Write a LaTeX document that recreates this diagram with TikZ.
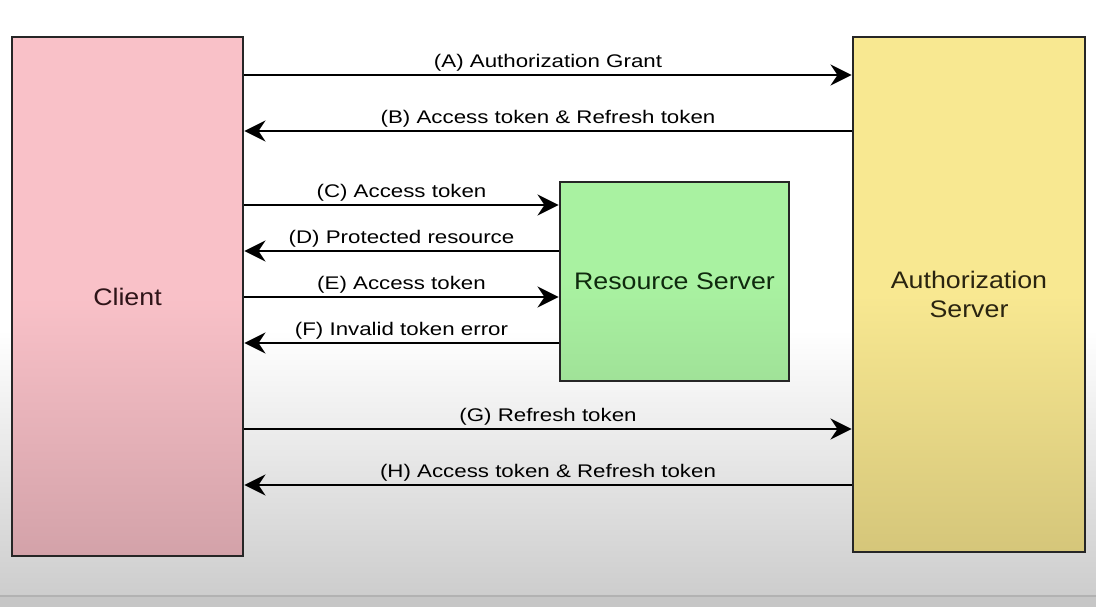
\documentclass[tikz,border=0pt]{standalone}
\usepackage{fontspec}
\setmainfont{Liberation Sans}
\usepackage{graphicx}
\usetikzlibrary{arrows.meta}

\definecolor{clientfill}{HTML}{F9C1C8}
\definecolor{clientdark}{HTML}{D3A2A9}
\definecolor{clienttext}{HTML}{2E1418}
\definecolor{resfill}{HTML}{A9F2A1}
\definecolor{resdark}{HTML}{A0E298}
\definecolor{restext}{HTML}{0F2A0E}
\definecolor{authfill}{HTML}{F8E891}
\definecolor{authdark}{HTML}{D5C67A}
\definecolor{authtext}{HTML}{2A2410}
\definecolor{bgbottom}{HTML}{CDCDCD}
\definecolor{bgband}{HTML}{C6C6C6}

\newcommand{\wide}[1]{\scalebox{1.12}[1]{#1}}

\tikzset{
    box/.style={draw=black!85, line width=2pt, inner sep=0pt,
        font=\fontsize{17}{22}\selectfont, align=center},
    flow/.style={line width=1.6pt, -{Stealth[length=15pt, width=15pt, inset=5pt]}},
    lbl/.style={above, inner sep=1.5pt, font=\fontsize{13}{15}\selectfont, xscale=1.22}
}

\begin{document}
\begin{tikzpicture}[x=0.025cm, y=-0.025cm]
    \useasboundingbox (0,0) rectangle (1096,607);
    % Background
    \fill[white] (0,0) rectangle (1096,330);
    \shade[top color=white, bottom color=bgbottom] (0,330) rectangle (1096,596);
    \fill[bgband] (0,596) rectangle (1096,607);
    \draw[black!30, line width=1pt] (0,596) -- (1096,596);

    % Define boxes
    \node[box, minimum width=5.775cm, minimum height=12.975cm,
        top color=clientfill, bottom color=clientdark, middle color=clientfill,
        text=clienttext] (client) at (127.5,296.5) {\wide{Client}};
    \node[box, minimum width=5.725cm, minimum height=4.975cm,
        top color=resfill, bottom color=resdark, middle color=resfill,
        text=restext] (res) at (674.5,281.5) {\wide{Resource Server}};
    \node[box, minimum width=5.8cm, minimum height=12.875cm,
        top color=authfill, bottom color=authdark, middle color=authfill,
        text=authtext] (auth) at (969,294.5) {\wide{Authorization}\\[-1pt]\wide{Server}};

    % Draw arrows
    \draw[flow] (client.east |- 0,75) -- (auth.west |- 0,75) node[lbl, midway] {(A) Authorization Grant};
    \draw[flow] (auth.west |- 0,131) -- (client.east |- 0,131) node[lbl, midway] {(B) Access token \& Refresh token};
    \draw[flow] (client.east |- 0,205) -- (res.west |- 0,205) node[lbl, midway] {(C) Access token};
    \draw[flow] (res.west |- 0,251) -- (client.east |- 0,251) node[lbl, midway] {(D) Protected resource};
    \draw[flow] (client.east |- 0,297) -- (res.west |- 0,297) node[lbl, midway] {(E) Access token};
    \draw[flow] (res.west |- 0,343) -- (client.east |- 0,343) node[lbl, midway] {(F) Invalid token error};
    \draw[flow] (client.east |- 0,429) -- (auth.west |- 0,429) node[lbl, midway] {(G) Refresh token};
    \draw[flow] (auth.west |- 0,485) -- (client.east |- 0,485) node[lbl, midway] {(H) Access token \& Refresh token};
\end{tikzpicture}
\end{document}
